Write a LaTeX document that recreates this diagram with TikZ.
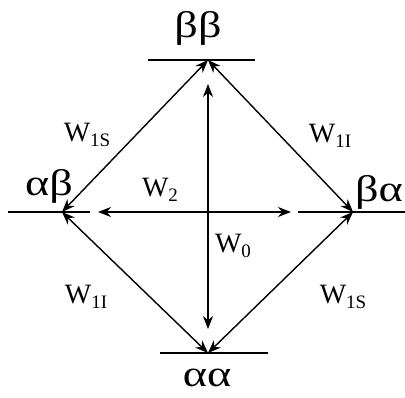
\documentclass[tikz,border=0pt]{standalone}
\usepackage{fontspec}
\setmainfont{Liberation Serif}
\usetikzlibrary{arrows.meta}

\newcommand{\wsub}[1]{\raisebox{-0.35ex}{\fontsize{19}{19}\selectfont #1}}
\newcommand{\spinlbl}[1]{\scalebox{1.25}[1]{#1}}

\begin{document}
\begin{tikzpicture}[x=1pt,y=-1pt,
  lvl/.style={line width=1.5pt},
  tr/.style={{Stealth[length=13pt,width=10pt]}-{Stealth[length=13pt,width=10pt]}, line width=1.4pt},
  st/.style={font=\fontsize{37}{37}\selectfont, inner sep=0pt},
  rt/.style={font=\fontsize{28}{28}\selectfont, inner sep=0pt},
]
\useasboundingbox (0,0) rectangle (405,397);
% four spin states (apex of each level)
\coordinate (bb) at (208,60);
\coordinate (ab) at (62,212);
\coordinate (ba) at (353,212);
\coordinate (aa) at (208,353);
% level lines
\draw[lvl] (148,60) -- (255,60);
\draw[lvl] (8,212) -- (90,212);
\draw[lvl] (298,212) -- (405,212);
\draw[lvl] (160,353) -- (268,353);
\node[st] (lbb) at (198,28) {\spinlbl{ββ}};
\node[st] (lab) at (49,186) {\spinlbl{αβ}};
\node[st] (lba) at (379,192) {\spinlbl{βα}};
\node[st] (laa) at (207,378) {\spinlbl{αα}};
% inner end points of W0, W2
\coordinate (w0a) at (208,84);
\coordinate (w0b) at (208,329);
\coordinate (w2a) at (98,212);
\coordinate (w2b) at (291,212);
% transitions
\draw[tr] (ab) -- (bb);
\draw[tr] (bb) -- (ba);
\draw[tr] (ab) -- (aa);
\draw[tr] (aa) -- (ba);
\draw[tr] (w0a) -- (w0b);
\draw[tr] (w2a) -- (w2b);
\node[rt] (w1s) at (87,135) {W\wsub{1S}};
\node[rt] (w1i) at (330,136) {W\wsub{1I}};
\node[rt] (w2) at (160,190) {W\wsub{2}};
\node[rt] (w0) at (233,246) {W\wsub{0}};
\node[rt] (w1ib) at (86,297) {W\wsub{1I}};
\node[rt] (w1sb) at (343,297) {W\wsub{1S}};
\end{tikzpicture}
\end{document}
